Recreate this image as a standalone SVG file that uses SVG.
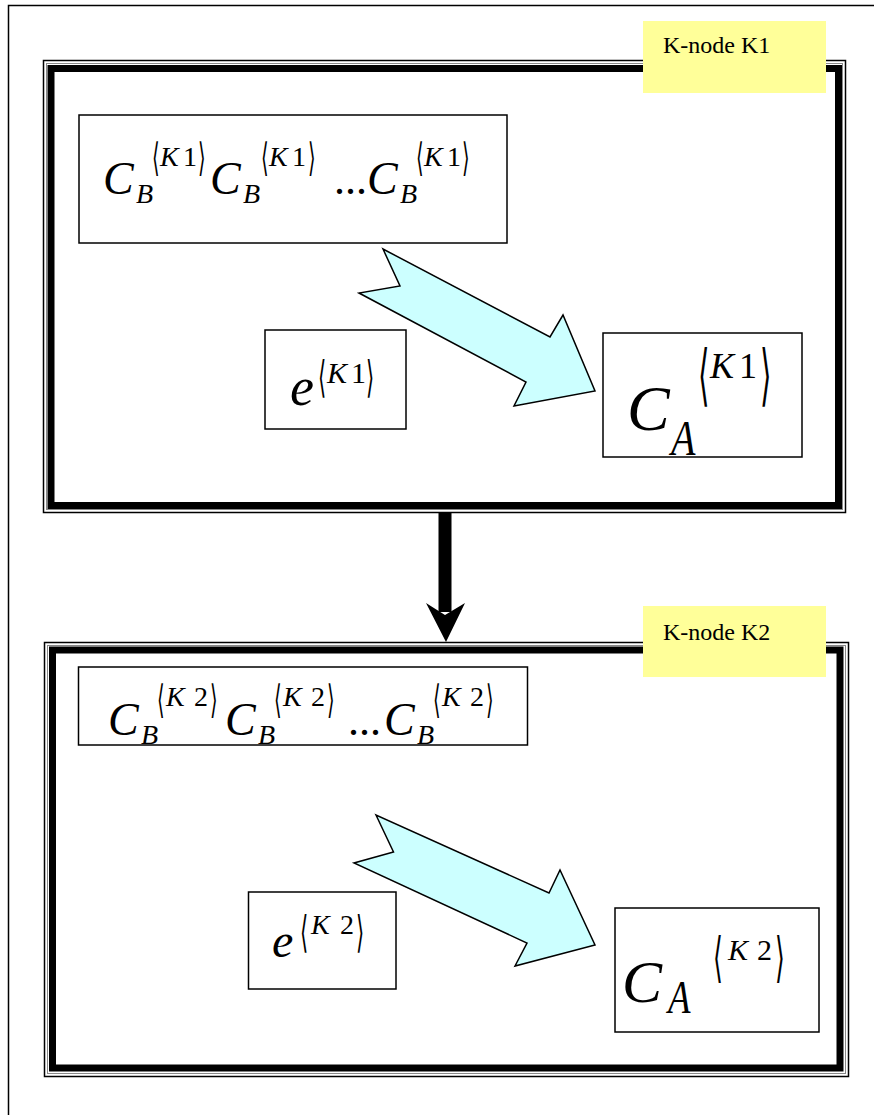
<svg xmlns="http://www.w3.org/2000/svg" width="874" height="1115" viewBox="0 0 874 1115">
<style>
.box{fill:#fff;stroke:#000;stroke-width:1.5}
.outer{fill:none;stroke:#000;stroke-width:1.5}
.mid{fill:none;stroke:#888;stroke-width:1}
.thick{fill:none;stroke:#000;stroke-width:7}
.lbl{fill:#FFFF99}
.lt{font-family:"Liberation Serif","Times New Roman",serif;font-size:24px;fill:#000}
.m{font-family:"Liberation Serif","Times New Roman",serif;font-style:italic;fill:#000}
.r{font-family:"Liberation Serif","Times New Roman",serif;font-style:normal;fill:#000}
.br{font-family:"DejaVu Serif","DejaVu Sans",serif;font-style:normal;fill:#000}
.fat{fill:#CCFFFF;stroke:#000;stroke-width:1.5;stroke-linejoin:miter}
</style>
<rect x="0" y="0" width="874" height="1115" fill="#fff"/>
<rect x="8.5" y="5.5" width="880" height="1120" class="outer"/>

<g id="k1">
<rect x="43.5" y="60.5" width="802" height="452" class="outer"/>
<rect x="46.5" y="63.5" width="796" height="446" class="mid"/>
<rect x="51" y="68.5" width="787.5" height="437" class="thick"/>
<rect x="643" y="21" width="183" height="72" class="lbl"/>
<text x="663" y="53" class="lt">K-node K1</text>
</g>

<g id="k1-cb">
<rect x="79" y="115" width="428" height="128" class="box"/>
<text class="m" font-size="46" x="103" y="194">C</text>
<text class="m" font-size="28" x="136" y="203">B</text>
<text class="br" font-size="26" transform="translate(152,171) scale(0.75,1.5)">⟨</text>
<text class="m" font-size="28" x="160" y="166">K</text>
<text class="r" font-size="28" x="183" y="166">1</text>
<text class="br" font-size="26" transform="translate(198,171) scale(0.75,1.5)">⟩</text>
<text class="m" font-size="46" x="210" y="194">C</text>
<text class="m" font-size="28" x="243" y="203">B</text>
<text class="br" font-size="26" transform="translate(261,171) scale(0.75,1.5)">⟨</text>
<text class="m" font-size="28" x="269" y="166">K</text>
<text class="r" font-size="28" x="292" y="166">1</text>
<text class="br" font-size="26" transform="translate(308,171) scale(0.75,1.5)">⟩</text>
<text class="r" font-size="44" x="334" y="194">...</text>
<text class="m" font-size="46" x="367" y="194">C</text>
<text class="m" font-size="28" x="400" y="203">B</text>
<text class="br" font-size="26" transform="translate(416,171) scale(0.75,1.5)">⟨</text>
<text class="m" font-size="28" x="424" y="166">K</text>
<text class="r" font-size="28" x="447" y="166">1</text>
<text class="br" font-size="26" transform="translate(462,171) scale(0.75,1.5)">⟩</text>
</g>

<g id="k1-e">
<rect x="265" y="330" width="141" height="99" class="box"/>
<text class="m" font-size="54" x="290" y="405">e</text>
<text class="br" font-size="30" transform="translate(318,392) scale(0.7,1.45)">⟨</text>
<text class="m" font-size="30" x="327" y="383">K</text>
<text class="r" font-size="30" x="351" y="383">1</text>
<text class="br" font-size="30" transform="translate(366,392) scale(0.7,1.45)">⟩</text>
</g>

<g id="k1-ca">
<rect x="603" y="333" width="199" height="124" class="box"/>
<text class="m" font-size="64" x="627" y="430">C</text>
<text class="m" font-size="50" transform="translate(671,455) scale(0.8,1)">A</text>
<text class="br" font-size="42" transform="translate(698,398) scale(0.7,1.6)">⟨</text>
<text class="m" font-size="36" x="710" y="378">K</text>
<text class="r" font-size="36" x="739" y="378">1</text>
<text class="br" font-size="42" transform="translate(760,398) scale(0.7,1.6)">⟩</text>
</g>

<g id="k2">
<rect x="44.5" y="642.5" width="804" height="434" class="outer"/>
<rect x="47.5" y="645.5" width="798" height="428" class="mid"/>
<rect x="52.5" y="650" width="787.5" height="418" class="thick"/>
<rect x="643" y="606" width="183" height="71" class="lbl"/>
<text x="663" y="640" class="lt">K-node K2</text>
</g>

<g id="k2-cb">
<rect x="78.5" y="667" width="449" height="78" class="box"/>
<text class="m" font-size="46" x="108" y="735">C</text>
<text class="m" font-size="28" x="141" y="744">B</text>
<text class="br" font-size="26" transform="translate(157,713) scale(0.75,1.5)">⟨</text>
<text class="m" font-size="28" x="166" y="706">K</text>
<text class="r" font-size="28" x="194" y="706">2</text>
<text class="br" font-size="26" transform="translate(210,713) scale(0.75,1.5)">⟩</text>
<text class="m" font-size="46" x="225" y="735">C</text>
<text class="m" font-size="28" x="258" y="744">B</text>
<text class="br" font-size="26" transform="translate(274,713) scale(0.75,1.5)">⟨</text>
<text class="m" font-size="28" x="283" y="706">K</text>
<text class="r" font-size="28" x="311" y="706">2</text>
<text class="br" font-size="26" transform="translate(327,713) scale(0.75,1.5)">⟩</text>
<text class="r" font-size="44" x="348" y="735">...</text>
<text class="m" font-size="46" x="384" y="735">C</text>
<text class="m" font-size="28" x="417" y="744">B</text>
<text class="br" font-size="26" transform="translate(433,713) scale(0.75,1.5)">⟨</text>
<text class="m" font-size="28" x="442" y="706">K</text>
<text class="r" font-size="28" x="470" y="706">2</text>
<text class="br" font-size="26" transform="translate(486,713) scale(0.75,1.5)">⟩</text>
</g>

<g id="k2-e">
<rect x="248.5" y="892" width="147.5" height="97" class="box"/>
<text class="m" font-size="48" x="272" y="957">e</text>
<text class="br" font-size="30" transform="translate(300,947) scale(0.7,1.45)">⟨</text>
<text class="m" font-size="28" x="311" y="934">K</text>
<text class="r" font-size="28" x="340" y="934">2</text>
<text class="br" font-size="30" transform="translate(356,947) scale(0.7,1.45)">⟩</text>
</g>

<g id="k2-ca">
<rect x="615" y="908" width="204" height="124" class="box"/>
<text class="m" font-size="60" x="622" y="1002">C</text>
<text class="m" font-size="46" transform="translate(668,1013) scale(0.8,1)">A</text>
<text class="br" font-size="36" transform="translate(713,976) scale(0.7,1.5)">⟨</text>
<text class="m" font-size="30" x="728" y="960">K</text>
<text class="r" font-size="30" x="757" y="960">2</text>
<text class="br" font-size="36" transform="translate(775,976) scale(0.7,1.5)">⟩</text>
</g>

<g id="connectors">
<polygon class="fat" points="383,249 400,286 359,293 526,382 514,406 595,391 563,315 550,337"/>
<polygon class="fat" points="376,815 393.5,852 354,863 527,943 515,966 595,945 560,870 549,893"/>
<line x1="445" y1="513" x2="445" y2="612" stroke="#000" stroke-width="13"/>
<polygon points="426,603 445,615 465,603 446,642" fill="#000"/>
</g>
</svg>
